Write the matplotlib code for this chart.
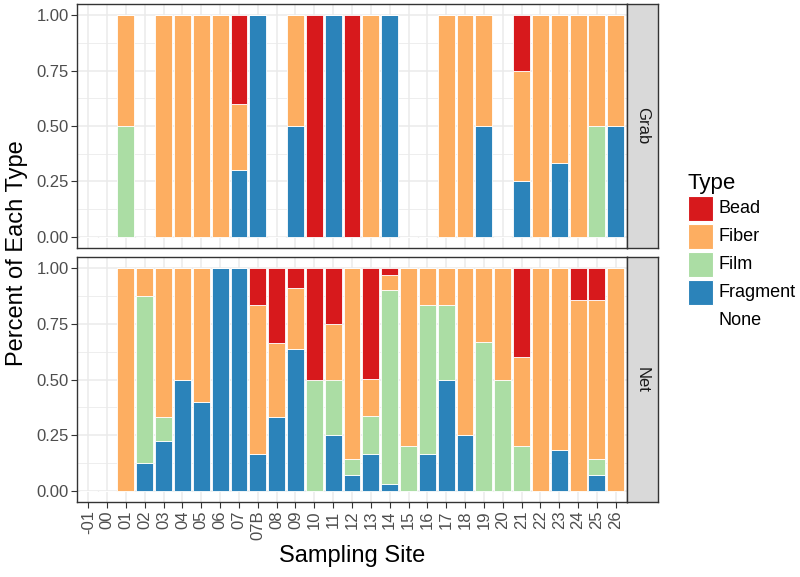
import matplotlib
matplotlib.use("Agg")
import matplotlib.pyplot as plt
import numpy as np
from matplotlib.patches import Patch, Rectangle

plt.rcParams['font.family'] = ['Liberation Sans', 'DejaVu Sans']

sites = ['-01', '00', '01', '02', '03', '04', '05', '06', '07', '07B', '08', '09',
         '10', '11', '12', '13', '14', '15', '16', '17', '18', '19', '20', '21',
         '22', '23', '24', '25', '26']

types = ['Bead', 'Fiber', 'Film', 'Fragment', 'None']
colors = {'Bead': '#d7191c', 'Fiber': '#fdae61', 'Film': '#abdda4', 'Fragment': '#2b83ba'}

# Grab samples
grab_fragment = [0, 0, 0, 0, 0, 0, 0, 0, 0.3, 1, 0, 0.5, 0, 1, 0, 0, 1, 0, 0, 0, 0, 0.5, 0, 0.25, 0, 0.333, 0, 0, 0.5]
grab_film     = [0, 0, 0.5, 0, 0, 0, 0, 0, 0, 0, 0, 0, 0, 0, 0, 0, 0, 0, 0, 0, 0, 0, 0, 0, 0, 0, 0, 0.5, 0]
grab_fiber    = [0, 0, 0.5, 0, 1, 1, 1, 1, 0.3, 0, 0, 0.5, 0, 0, 0, 1, 0, 0, 0, 1, 1, 0.5, 0, 0.5, 1, 0.667, 1, 0.5, 0.5]
grab_bead     = [0, 0, 0, 0, 0, 0, 0, 0, 0.4, 0, 0, 0, 1, 0, 1, 0, 0, 0, 0, 0, 0, 0, 0, 0.25, 0, 0, 0, 0, 0]

# Net samples
net_fragment = [0, 0, 0, 0.125, 0.222, 0.5, 0.4, 1, 1, 0.167, 0.333, 0.636, 0, 0.25, 0.071, 0.167, 0.033, 0, 0.167, 0.5, 0.25, 0, 0, 0, 0, 0.182, 0, 0.071, 0]
net_film     = [0, 0, 0, 0.75, 0.111, 0, 0, 0, 0, 0, 0, 0, 0.5, 0.25, 0.071, 0.167, 0.867, 0.2, 0.667, 0.333, 0, 0.667, 0.5, 0.2, 0, 0, 0, 0.071, 0]
net_fiber    = [0, 0, 1, 0.125, 0.667, 0.5, 0.6, 0, 0, 0.667, 0.333, 0.273, 0, 0.25, 0.858, 0.167, 0.067, 0.8, 0.166, 0.167, 0.75, 0.333, 0.5, 0.4, 1, 0.818, 0.857, 0.715, 1]
net_bead     = [0, 0, 0, 0, 0, 0, 0, 0, 0, 0.166, 0.334, 0.091, 0.5, 0.25, 0, 0.499, 0.033, 0, 0, 0, 0, 0, 0, 0.4, 0, 0, 0.143, 0.143, 0]

panels = [
    ('Grab', {'Fragment': grab_fragment, 'Film': grab_film, 'Fiber': grab_fiber, 'Bead': grab_bead}),
    ('Net', {'Fragment': net_fragment, 'Film': net_film, 'Fiber': net_fiber, 'Bead': net_bead}),
]

W, H = 800, 577
fig = plt.figure(figsize=(W / 100, H / 100), dpi=100)

def fx(px):
    return px / W

def fy(py):
    return 1 - py / H

left_px, right_px = 77, 627
strip_w = 31
panel_rows = [(4, 248), (257, 502)]
border_col = '#333333'
grid_col = '#ebebeb'

x = np.arange(len(sites))
yticks = [0, 0.25, 0.5, 0.75, 1.0]
yminor = [0.125, 0.375, 0.625, 0.875]

for i, ((name, data), (top, bot)) in enumerate(zip(panels, panel_rows)):
    ax = fig.add_axes([fx(left_px), fy(bot), fx(right_px - left_px), (bot - top) / H])
    ax.set_xlim(-0.6, len(sites) - 1 + 0.6)
    ax.set_ylim(-0.05, 1.05)
    ax.set_axisbelow(True)
    for v in yminor:
        ax.axhline(v, color=grid_col, lw=0.6, zorder=0)
    for v in yticks:
        ax.axhline(v, color=grid_col, lw=1.1, zorder=0)
    for v in x:
        ax.axvline(v, color=grid_col, lw=1.1, zorder=0)
    bottom = np.zeros(len(sites))
    for t in ['Fragment', 'Film', 'Fiber', 'Bead']:
        vals = np.array(data[t], dtype=float)
        ax.bar(x, vals, width=0.9, bottom=bottom, color=colors[t],
               edgecolor='white', linewidth=0.6, zorder=2)
        bottom += vals
    ax.set_yticks(yticks)
    ax.set_yticklabels(['0.00', '0.25', '0.50', '0.75', '1.00'], fontsize=12, color='#4d4d4d')
    ax.set_xticks(x)
    if i == 1:
        ax.set_xticklabels(sites, rotation=90, fontsize=12, color='#4d4d4d')
    else:
        ax.set_xticklabels([])
        ax.tick_params(axis='x', length=0)
    ax.tick_params(axis='both', colors=border_col, labelcolor='#4d4d4d', length=4, width=0.8, pad=2)
    if i == 0:
        ax.tick_params(axis='x', length=0)
    for s in ax.spines.values():
        s.set_color(border_col)
        s.set_linewidth(1.0)
    # strip
    sax = fig.add_axes([fx(right_px), fy(bot), fx(strip_w), (bot - top) / H])
    sax.set_xticks([])
    sax.set_yticks([])
    sax.set_facecolor('#d9d9d9')
    for s in sax.spines.values():
        s.set_color(border_col)
        s.set_linewidth(1.0)
    sax.text(0.5, 0.5, name, rotation=-90, ha='center', va='center', fontsize=12,
             color='#1a1a1a', transform=sax.transAxes)

fig.text(fx(17), fy(253), 'Percent of Each Type', rotation=90, ha='center', va='center',
         fontsize=17)
fig.text(fx(352), fy(556), 'Sampling Site', ha='center', va='center', fontsize=17)

# legend
fig.text(fx(687), fy(183), 'Type', ha='left', va='center', fontsize=16)
key_y = [196, 224, 252, 280, 308]
for t, ky in zip(types, key_y):
    if t in colors:
        fig.patches.append(Rectangle((fx(688), fy(ky + 25)), fx(25), 25 / H,
                                     transform=fig.transFigure, facecolor=colors[t],
                                     edgecolor='white', linewidth=0.8))
    fig.text(fx(718), fy(ky + 12.5), t, ha='left', va='center', fontsize=13)

fig.savefig('out.png', dpi=100)
